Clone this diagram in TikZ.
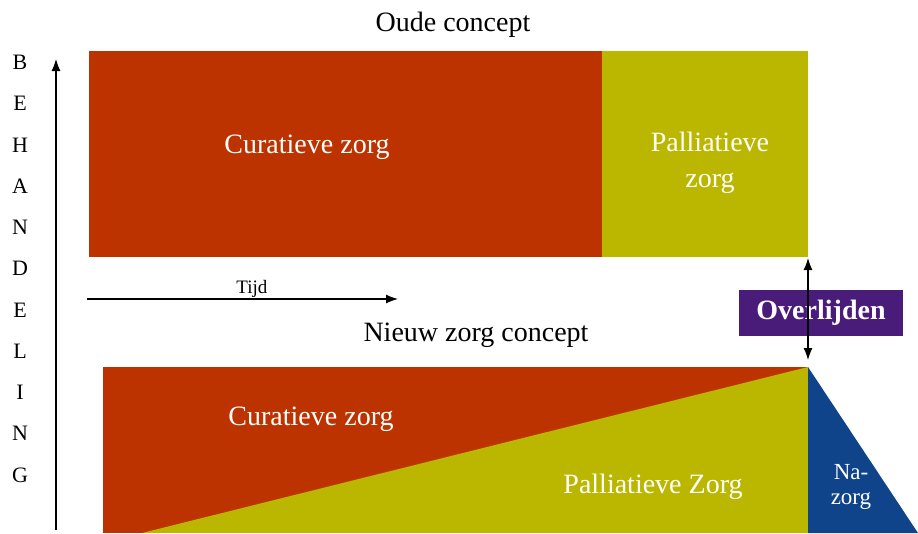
\documentclass[tikz,border=0pt]{standalone}
\usepackage{fontspec}
\setmainfont{Liberation Serif}
\usepackage{xcolor}
\usetikzlibrary{arrows,arrows.meta,calc,positioning,shapes}
\definecolor{curred}{RGB}{188,51,0}
\definecolor{palyel}{RGB}{187,183,0}
\definecolor{nablue}{RGB}{16,68,138}
\definecolor{diepurple}{RGB}{74,28,122}
\tikzset{%
	heading/.style  = {font=\fontsize{28}{30}\selectfont, inner sep=0pt, anchor=base}, % titles
	areatext/.style = {text=white, font=\fontsize{28}{36}\selectfont, align=center, inner sep=0pt},
	axletter/.style = {font=\fontsize{22}{24}\selectfont, inner sep=0pt},
	deathbox/.style = {fill=diepurple, text=white, font=\bfseries\fontsize{28}{30}\selectfont, minimum width=164pt, minimum height=46pt, inner sep=0pt},
	arrow/.style    = {line width=1.2pt,-{Latex[length=12pt,width=9pt]}},
}
\begin{document}
\begin{tikzpicture}[x=1pt,y=-1pt]
	\useasboundingbox (0,0) rectangle (918,533);
	% oude concept
	\fill[curred] (89,51) rectangle (602,257);
	\fill[palyel] (602,51) rectangle (808,257);
	\node [heading] (oud) at (453,31) {Oude concept};
	\node [areatext, anchor=base] (curoud) at (307,153) {Curatieve zorg};
	\node [areatext] (paloud) at (710,163) {Palliatieve\\zorg};
	
	% nieuw zorg concept
	\fill[curred] (103,367) rectangle (808,533);
	\fill[palyel] (808,367) -- (808,533) -- (142,533) -- cycle;
	\fill[nablue] (808,367) -- (918,533) -- (808,533) -- cycle;
	\node [heading] (nieuw) at (476,341) {Nieuw zorg concept};
	\node [areatext, anchor=base] (curnw) at (311,425) {Curatieve zorg};
	\node [areatext, anchor=base] (palnw) at (653,493) {Palliatieve Zorg};
	\node [areatext, font=\fontsize{23}{25}\selectfont] (nazorg) at (851,487) {Na-\\zorg};
	
	% assen
	\coordinate (ybot) at (56,530);
	\coordinate (ytop) at (56,59);
	\draw[arrow] (ybot) -- (ytop);
	\foreach \l [count=\i from 0] in {B,E,H,A,N,D,E,L,I,N,G}
		\node [axletter] (let\i) at (20,62.5+41.25*\i) {\l};
	\coordinate (tstart) at (87,299);
	\coordinate (tend) at (398,299);
	\draw[arrow] (tstart) -- node[pos=0.53, above, inner sep=1pt, font=\fontsize{19}{20}\selectfont] (tijd) {Tijd} (tend);
	
	% overlijden
	\node [deathbox] (dood) at (821,313) {Overlijden};
	\coordinate (eindoud) at (808,258);
	\coordinate (eindnw) at (808,360);
	\draw[arrow, {Latex[length=12pt,width=9pt]}-{Latex[length=12pt,width=9pt]}] (eindoud) -- (eindnw);
\end{tikzpicture}
\end{document}
